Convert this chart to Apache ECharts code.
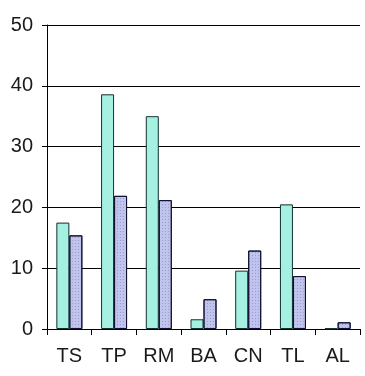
<!DOCTYPE html>
<html>
<head>
<meta charset="utf-8">
<script src="https://cdn.jsdelivr.net/npm/echarts@6/dist/echarts.min.js"></script>
<style>
html,body{margin:0;padding:0;background:#fff;}
#c{width:365px;height:376px;}
</style>
</head>
<body>
<div id="c"></div>
<script>
var categories = ['TS', 'TP', 'RM', 'BA', 'CN', 'TL', 'AL'];
var seriesA = [17.5, 38.6, 35.0, 1.6, 9.6, 20.5, 0.1];
var seriesB = [15.4, 21.9, 21.2, 4.9, 12.9, 8.7, 1.1];
var yTicks = [0, 10, 20, 30, 40, 50];

var chart = echarts.init(document.getElementById('c'));
chart.setOption({
  animation: false,
  backgroundColor: '#ffffff',
  grid: {left: 47, right: 5, top: 25, bottom: 47, containLabel: false},
  xAxis: {
    type: 'category',
    data: categories,
    axisLine: {show: true, lineStyle: {color: '#000', width: 1}},
    axisTick: {show: true, length: 6, lineStyle: {color: '#000'}},
    axisLabel: {fontSize: 20, color: '#1a1a1a', margin: 17, fontFamily: 'Liberation Sans, Arial, sans-serif'}
  },
  yAxis: {
    type: 'value',
    min: yTicks[0],
    max: yTicks[yTicks.length - 1],
    interval: 10,
    axisLine: {show: true, lineStyle: {color: '#000', width: 1}},
    axisTick: {show: true, length: 5, lineStyle: {color: '#000'}},
    axisLabel: {fontSize: 20, color: '#1a1a1a', margin: 14, fontFamily: 'Liberation Sans, Arial, sans-serif'},
    splitLine: {show: true, lineStyle: {color: '#000', width: 1}}
  },
  series: [
    {
      type: 'bar',
      data: seriesA,
      barWidth: 13,
      barGap: '0%',
      itemStyle: {color: '#a6f0e2', borderColor: '#103030', borderWidth: 1}
    },
    {
      type: 'bar',
      data: seriesB,
      barWidth: 13,
      barGap: '0%',
      itemStyle: {
        color: '#c0c3ec',
        borderColor: '#101030',
        borderWidth: 1,
        decal: {symbol: 'rect', symbolSize: 1, dashArrayX: [1, 2], dashArrayY: [1, 2], color: 'rgba(110,110,180,0.45)', rotation: 0}
      }
    }
  ]
});
</script>
</body>
</html>
